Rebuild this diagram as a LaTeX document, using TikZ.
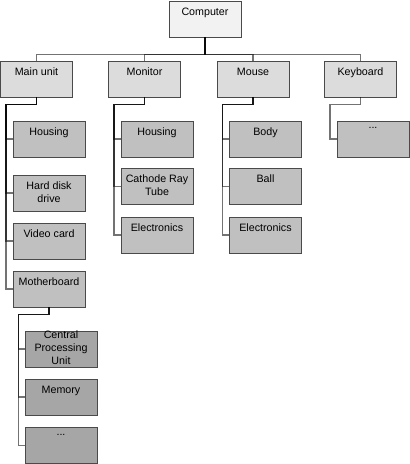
\documentclass[tikz,border=0pt]{standalone}
\usepackage{fontspec}
\setmainfont{Liberation Sans}
\usepackage{xcolor}
\usetikzlibrary{positioning,calc}

\definecolor{lvlzero}{HTML}{F2F2F2}
\definecolor{lvlone}{HTML}{DCDCDC}
\definecolor{lvltwo}{HTML}{C0C0C0}
\definecolor{lvlthree}{HTML}{A6A6A6}
\definecolor{rim}{HTML}{4A4A4A}

\begin{document}
\begin{tikzpicture}[
    x=1pt, y=-1pt,
    part/.style={draw=rim, line width=0.8pt, minimum width=72pt, minimum height=36pt, inner sep=0pt},
    txt/.style={anchor=north, align=center, inner sep=0pt, yshift=-6.9pt, font=\fontsize{10.7}{13}\selectfont},
    link/.style={draw=black, draw opacity=0.55, line width=1.5pt}
]
\useasboundingbox (0,0) rectangle (410,464);

% top
\node[part, fill=lvlzero, label={[txt]north:Computer}] (computer) at (205,19) {};

% first level
\node[part, fill=lvlone, label={[txt]north:Main unit}] (mainunit) at (36.5,79) {};
\node[part, fill=lvlone, label={[txt]north:Monitor}] (monitor) at (144.5,79) {};
\node[part, fill=lvlone, label={[txt]north:Mouse}] (mouse) at (253,79) {};
\node[part, fill=lvlone, label={[txt]north:Keyboard}] (keyboard) at (360.5,79) {};

% main unit parts
\node[part, fill=lvltwo, label={[txt]north:Housing}] (mhousing) at (49,139) {};
\node[part, fill=lvltwo, label={[txt]north:{Hard disk\\drive}}] (harddisk) at (49,193) {};
\node[part, fill=lvltwo, label={[txt]north:Video card}] (videocard) at (49,241) {};
\node[part, fill=lvltwo, label={[txt]north:Motherboard}] (motherboard) at (49,289) {};

% monitor parts
\node[part, fill=lvltwo, label={[txt]north:Housing}] (nhousing) at (157,139) {};
\node[part, fill=lvltwo, label={[txt]north:{Cathode Ray\\Tube}}] (crt) at (157,186.5) {};
\node[part, fill=lvltwo, label={[txt]north:Electronics}] (nelec) at (157,235) {};

% mouse parts
\node[part, fill=lvltwo, label={[txt]north:Body}] (body) at (265.5,139) {};
\node[part, fill=lvltwo, label={[txt]north:Ball}] (ball) at (265.5,186.5) {};
\node[part, fill=lvltwo, label={[txt]north:Electronics}] (uelec) at (265.5,235) {};

% keyboard parts
\node[part, fill=lvltwo, label={[txt]north:...}] (kmore) at (373,139) {};

% motherboard parts
\node[part, fill=lvlthree, label={[txt, yshift=6.5pt]north:{Central\\Processing\\Unit}}] (cpu) at (61,349) {};
\node[part, fill=lvlthree, label={[txt]north:Memory}] (memory) at (61,397) {};
\node[part, fill=lvlthree, label={[txt]north:...}] (bmore) at (61,445.5) {};

% connectors
\foreach \c in {mainunit,monitor,mouse,keyboard}
  \draw[link] (computer.south) -- ++(0,17) -| (\c.north);

\foreach \p/\c in {mainunit/mhousing, mainunit/harddisk, mainunit/videocard, mainunit/motherboard,
                   monitor/nhousing, monitor/crt, monitor/nelec,
                   mouse/body, mouse/ball, mouse/uelec,
                   keyboard/kmore,
                   motherboard/cpu, motherboard/memory, motherboard/bmore}
  \draw[link] (\p.south) -- ++(0,7) -| ([xshift=6pt]\p.west |- \c.west) -- (\c.west);

\end{tikzpicture}
\end{document}
